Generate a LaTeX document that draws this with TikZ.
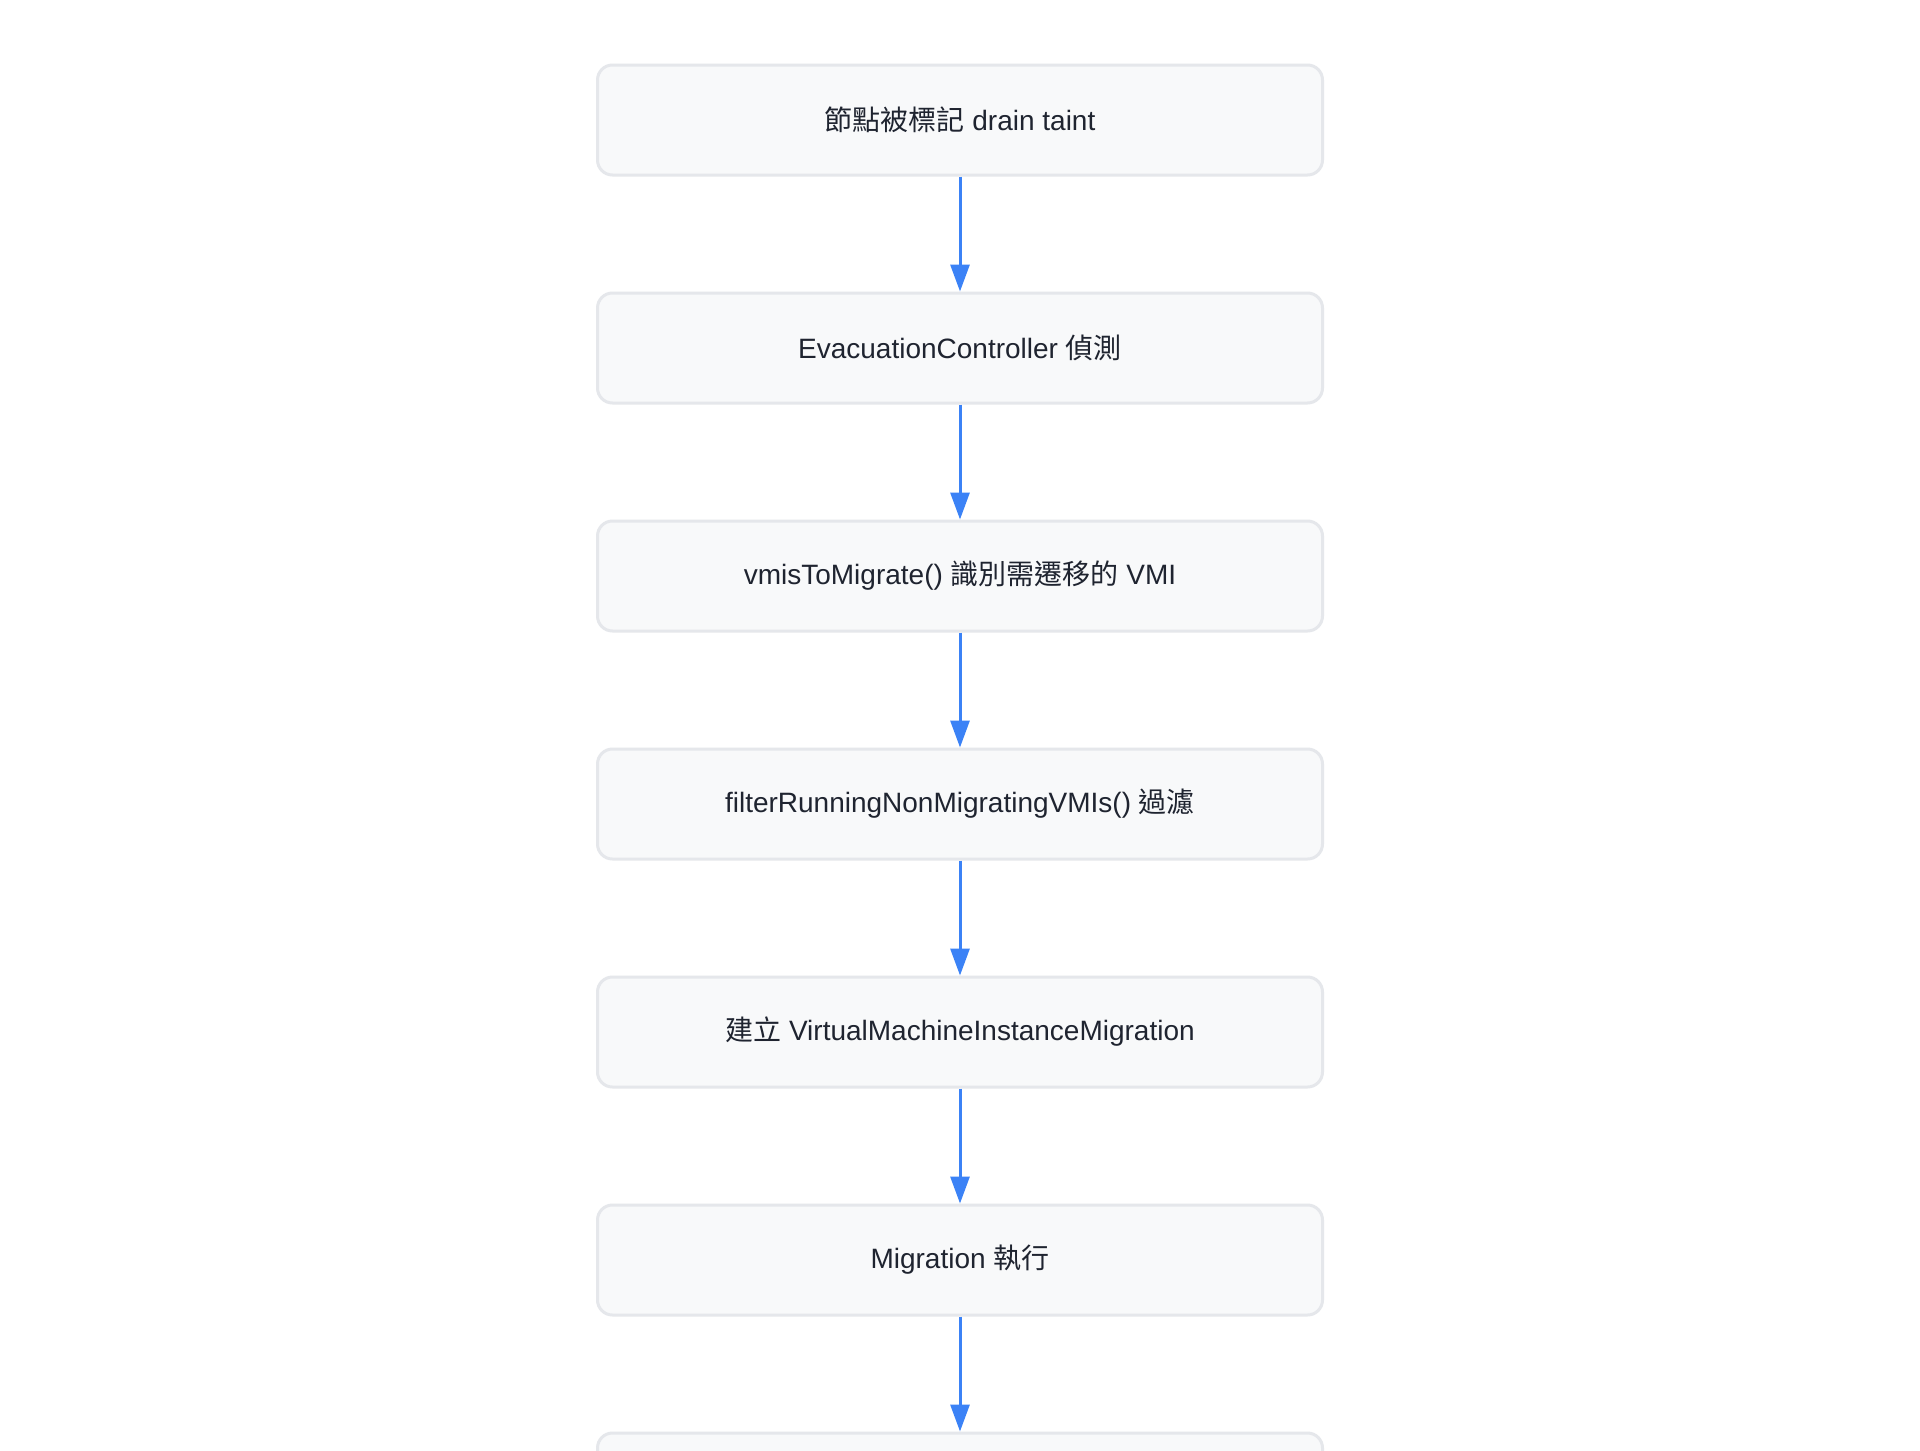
\documentclass[tikz,border=0pt]{standalone}
\usepackage{fontspec}
\setmainfont{Liberation Sans}
\newfontfamily\cjk{Noto Sans CJK TC}
\usetikzlibrary{arrows.meta}
\definecolor{boxfill}{HTML}{F8F9FA}
\definecolor{boxline}{HTML}{E5E7EB}
\definecolor{arrowblue}{HTML}{3B82F6}
\definecolor{txt}{HTML}{1F2430}
\tikzset{
  flowbox/.style={draw=boxline, fill=boxfill, line width=3pt, rounded corners=15pt,
    minimum width=725pt, minimum height=110pt, inner sep=0pt, text=txt,
    font=\fontsize{28pt}{33pt}\selectfont},
  flowarrow/.style={draw=arrowblue, line width=3pt,
    -{Triangle[length=27pt,width=19pt]}}
}
\begin{document}
\begin{tikzpicture}[x=1pt,y=-1pt]
\useasboundingbox (0,0) rectangle (1920,1451);
\fill[white] (0,0) rectangle (1920,1451);
\clip (0,0) rectangle (1920,1451);
\node[flowbox] (n1) at (960,120) {{\cjk 節點被標記} drain taint};
\node[flowbox] (n2) at (960,348) {EvacuationController {\cjk 偵測}};
\node[flowbox] (n3) at (960,576) {vmisToMigrate() {\cjk 識別需遷移的} VMI};
\node[flowbox] (n4) at (960,804) {filterRunningNonMigratingVMIs() {\cjk 過濾}};
\node[flowbox] (n5) at (960,1032) {{\cjk 建立} VirtualMachineInstanceMigration};
\node[flowbox] (n6) at (960,1260) {Migration {\cjk 執行}};
\node[flowbox] (n7) at (960,1488) {};
\draw[flowarrow] (n1.south) -- (n2.north);
\draw[flowarrow] (n2.south) -- (n3.north);
\draw[flowarrow] (n3.south) -- (n4.north);
\draw[flowarrow] (n4.south) -- (n5.north);
\draw[flowarrow] (n5.south) -- (n6.north);
\draw[flowarrow] (n6.south) -- (n7.north);
\end{tikzpicture}
\end{document}
